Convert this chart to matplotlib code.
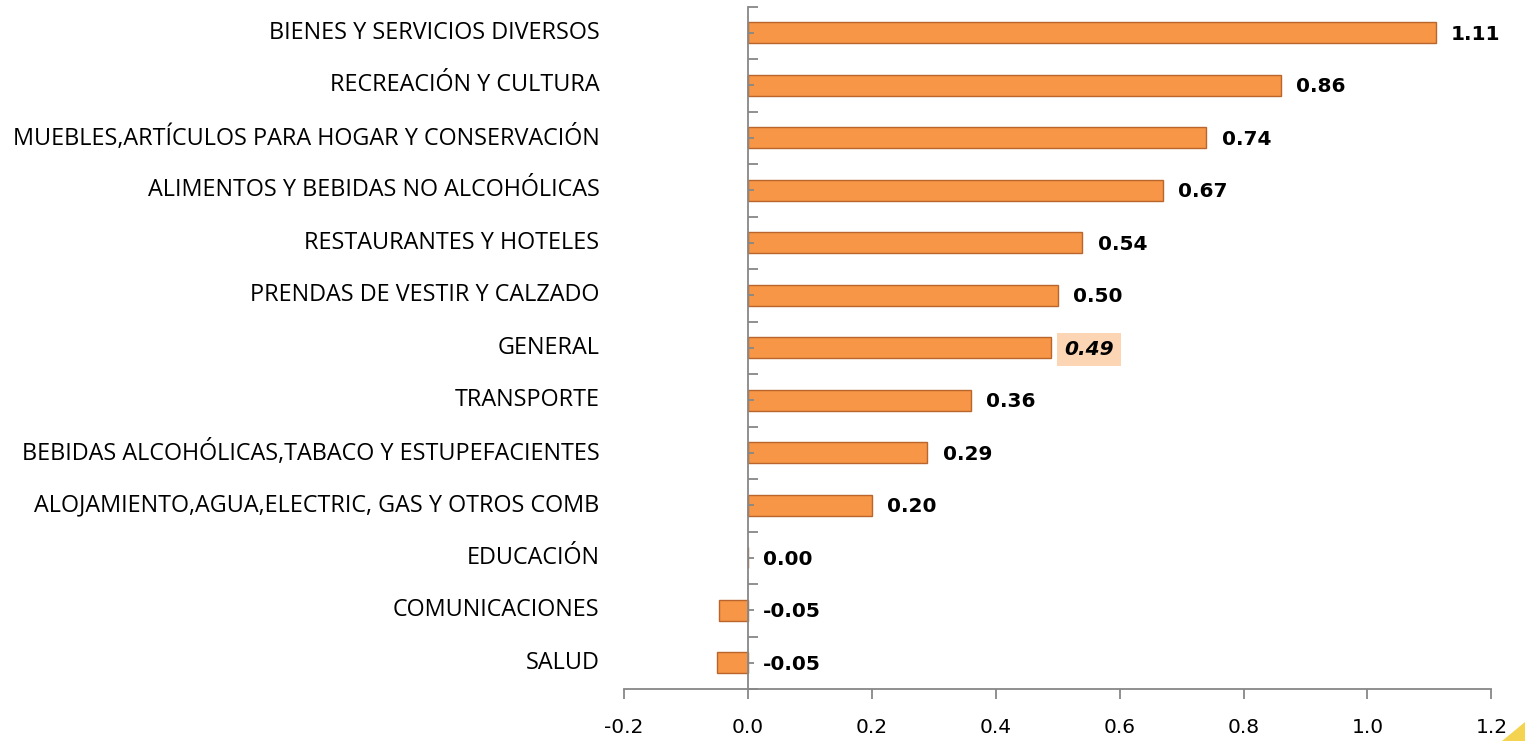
import matplotlib.pyplot as plt
import matplotlib.transforms as mtransforms
from matplotlib.patches import Polygon
import numpy as np

categorias = [
    "BIENES Y SERVICIOS DIVERSOS",
    "RECREACIÓN Y CULTURA",
    "MUEBLES,ARTÍCULOS PARA HOGAR Y CONSERVACIÓN",
    "ALIMENTOS Y BEBIDAS NO ALCOHÓLICAS",
    "RESTAURANTES Y HOTELES",
    "PRENDAS DE VESTIR Y CALZADO",
    "GENERAL",
    "TRANSPORTE",
    "BEBIDAS ALCOHÓLICAS,TABACO Y ESTUPEFACIENTES",
    "ALOJAMIENTO,AGUA,ELECTRIC, GAS Y OTROS COMB",
    "EDUCACIÓN",
    "COMUNICACIONES",
    "SALUD",
]
valores = [1.11, 0.86, 0.74, 0.67, 0.54, 0.50, 0.49, 0.36, 0.29, 0.20, 0.00, -0.046, -0.05]
x_ticks = [-0.2, 0.0, 0.2, 0.4, 0.6, 0.8, 1.0, 1.2]

plt.rcParams['font.family'] = ['Open Sans', 'DejaVu Sans']

fig = plt.figure(figsize=(15.25, 7.41), dpi=100)
ax = fig.add_axes([0.409, 0.070, 0.569, 0.921])

n = len(categorias)
y = np.arange(n)
ax.barh(y, valores, height=0.4, color='#F79646', edgecolor='#B9652B', linewidth=1)

ax.set_xlim(-0.2, 1.2)
ax.set_ylim(n - 0.5, -0.5)

gris = '#878787'
for s in ['top', 'right']:
    ax.spines[s].set_visible(False)
ax.spines['left'].set_position(('data', 0))
ax.spines['left'].set_color(gris)
ax.spines['bottom'].set_color(gris)
ax.spines['left'].set_linewidth(1.3)
ax.spines['bottom'].set_linewidth(1.3)

ax.set_xticks(x_ticks)
ax.set_xticklabels([f"{t:.1f}" for t in x_ticks], fontsize=14.5, family='DejaVu Sans')
ax.tick_params(axis='x', direction='out', length=7, width=1.3, color=gris, pad=14)

ax.set_yticks(np.arange(-0.5, n, 1.0))
ax.set_yticklabels([])
ax.set_yticks(y, minor=True)
ax.tick_params(axis='y', which='major', direction='in', length=7, width=1.3, color=gris)
ax.tick_params(axis='y', which='minor', direction='in', length=4, width=1.3, color=gris)

# nombres de categoria a la izquierda
trans = mtransforms.blended_transform_factory(ax.transAxes, ax.transData)
for i, nombre in enumerate(categorias):
    ax.text(-0.028, i, nombre, transform=trans, ha='right', va='center', fontsize=16.8)

# etiquetas de valor
for i, v in enumerate(valores):
    x0 = max(v, 0)
    if categorias[i] == "GENERAL":
        ax.annotate(f"{v:.2f}", xy=(x0, i + 0.03), xytext=(9, 0), textcoords='offset points',
                    ha='left', va='center', fontsize=14.5, fontweight='bold', style='italic',
                    family='DejaVu Sans',
                    bbox=dict(boxstyle='square,pad=0.35', fc='#FCD5B5', ec='none'))
    else:
        ax.annotate(f"{v:.2f}", xy=(x0, i + 0.03), xytext=(11, 0), textcoords='offset points',
                    ha='left', va='center', fontsize=14.5, fontweight='bold',
                    family='DejaVu Sans')

# adorno amarillo de la esquina
fig.patches.append(Polygon([[0.985, 0.0], [1.0, 0.0], [1.0, 0.025]], closed=True,
                           transform=fig.transFigure, fc='#F2CF3C', ec='none', alpha=0.9))

fig.savefig('out.png', dpi=100)
